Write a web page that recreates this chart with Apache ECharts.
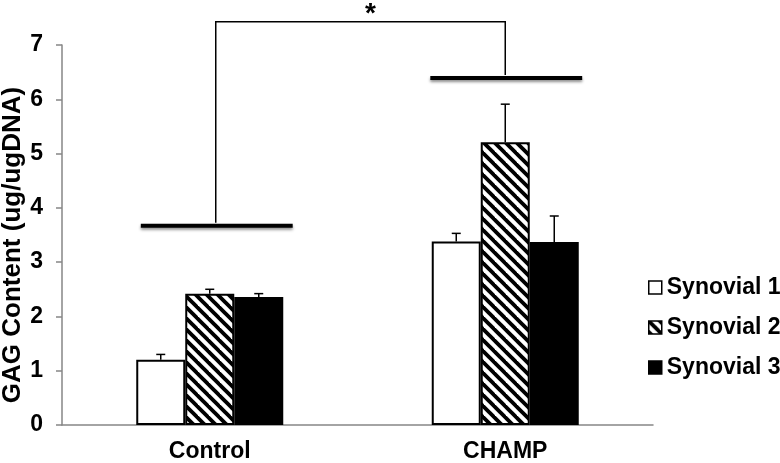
<!DOCTYPE html>
<html>
<head>
<meta charset="utf-8">
<script src="https://cdn.jsdelivr.net/npm/echarts@6/dist/echarts.min.js"></script>
<style>
    html, body { margin: 0; padding: 0; background: #fff; }
    #main { width: 780px; height: 463px; }
</style>
</head>
<body>
<div id="main"></div>
<script>
    // chart data
    var categories = ['Control', 'CHAMP'];
    var seriesNames = ['Synovial 1', 'Synovial 2', 'Synovial 3'];
    var synovial1 = [1.20, 3.38];
    var synovial2 = [2.42, 5.21];
    var synovial3 = [2.36, 3.37];
    var err1 = [0.10, 0.15];
    var err2 = [0.08, 0.70];
    var err3 = [0.06, 0.48];
    var groupLevels = [3.67, 6.39];   // horizontal bars above each group
    var bracketTop = [7.43];          // significance bracket
    var sigMark = ['*'];

    var FONT = "'Liberation Sans', Arial, sans-serif";
    var BAR_W = 49;
    var lineShift = [7, 1];            // px shift of group lines from category center

    // diagonal hatching pattern
    function makeHatch() {
        var p = 11;
        var c = document.createElement('canvas');
        c.width = p;
        c.height = p;
        var ctx = c.getContext('2d');
        ctx.fillStyle = '#fff';
        ctx.fillRect(0, 0, p, p);
        ctx.strokeStyle = '#000';
        ctx.lineWidth = 3.8;
        for (var k = -p; k <= p; k += p) {
            ctx.beginPath();
            ctx.moveTo(k - 2, -2);
            ctx.lineTo(k + p + 2, p + 2);
            ctx.stroke();
        }
        return c;
    }

    var values = [synovial1, synovial2, synovial3];
    var errors = [err1, err2, err3];
    var fills = ['#fff', {image: makeHatch(), repeat: 'repeat'}, '#000'];

    var errData = [];
    for (var s = 0; s < 3; s++) {
        for (var i = 0; i < categories.length; i++) {
            errData.push([i, s, values[s][i], errors[s][i]]);
        }
    }

    var chart = echarts.init(document.getElementById('main'));

    var barSeries = seriesNames.map(function (name, s) {
        return {
            name: name,
            type: 'bar',
            data: values[s],
            barWidth: BAR_W,
            barGap: '0%',
            itemStyle: {
                color: fills[s],
                borderColor: '#000',
                borderWidth: 2
            },
            emphasis: {disabled: true}
        };
    });

    var errorSeries = {
        type: 'custom',
        data: errData,
        z: 5,
        renderItem: function (params, api) {
            var cat = api.value(0), s = api.value(1);
            var v = api.value(2), e = api.value(3);
            var base = api.coord([cat, v]);
            var top = api.coord([cat, v + e]);
            var x = base[0] + (s - 1) * BAR_W;
            var style = {stroke: '#000', lineWidth: 1.5};
            return {
                type: 'group',
                children: [
                    {type: 'line', shape: {x1: x, y1: base[1], x2: x, y2: top[1]}, style: style},
                    {type: 'line', shape: {x1: x - 4.5, y1: top[1], x2: x + 4.5, y2: top[1]}, style: style}
                ]
            };
        }
    };

    var sigSeries = {
        type: 'custom',
        data: bracketTop.map(function (v) { return [0, v]; }),
        z: 6,
        clip: false,
        renderItem: function (params, api) {
            var band = api.size([1, 0])[0];
            var half = band * 0.257;
            var children = [];
            var ends = [];
            for (var i = 0; i < categories.length; i++) {
                var p = api.coord([i, groupLevels[i]]);
                var cx = p[0] + lineShift[i];
                children.push({
                    type: 'line',
                    shape: {x1: cx - half, y1: p[1], x2: cx + half, y2: p[1]},
                    style: {
                        stroke: '#000', lineWidth: 4,
                        shadowColor: 'rgba(0,0,0,0.45)', shadowBlur: 3, shadowOffsetY: 2
                    }
                });
                ends.push([cx - 1, p[1] - 3]);
            }
            var yTop = api.coord([0, api.value(1)])[1];
            children.push({
                type: 'polyline',
                shape: {points: [[ends[0][0], ends[0][1]], [ends[0][0], yTop], [ends[1][0], yTop], [ends[1][0], ends[1][1]]]},
                style: {stroke: '#000', lineWidth: 1.5, fill: null}
            });
            children.push({
                type: 'text',
                style: {
                    text: sigMark[0],
                    x: (ends[0][0] + ends[1][0]) / 2 + 10,
                    y: yTop - 21,
                    align: 'center',
                    verticalAlign: 'top',
                    font: 'bold 28px ' + FONT,
                    fill: '#000'
                }
            });
            return {type: 'group', children: children};
        }
    };

    chart.setOption({
        animation: false,
        grid: {left: 62, right: 127, top: 45, bottom: 37},
        legend: {
            orient: 'vertical',
            left: 648,
            top: 276,
            padding: 0,
            itemWidth: 13,
            itemHeight: 13,
            itemGap: 17,
            icon: 'rect',
            itemStyle: {borderWidth: 1.5},
            selectedMode: false,
            data: seriesNames,
            textStyle: {
                fontFamily: FONT,
                fontWeight: 'bold',
                fontSize: 23,
                lineHeight: 23,
                color: '#000'
            }
        },
        graphic: [{
            type: 'text',
            x: 13,
            y: 245,
            rotation: Math.PI / 2,
            style: {
                text: 'GAG Content (ug/ugDNA)',
                align: 'center',
                verticalAlign: 'middle',
                font: 'bold 26px ' + FONT,
                fill: '#000'
            }
        }],
        xAxis: {
            type: 'category',
            data: categories,
            axisLine: {lineStyle: {color: '#868686', width: 1.5}},
            axisTick: {show: false},
            axisLabel: {
                color: '#000',
                fontFamily: FONT,
                fontWeight: 'bold',
                fontSize: 23,
                margin: 15
            }
        },
        yAxis: {
            type: 'value',
            min: 0,
            max: 7,
            interval: 1,
            splitLine: {show: false},
            axisLine: {show: true, lineStyle: {color: '#868686', width: 1.5}},
            axisTick: {show: true, length: 6, lineStyle: {color: '#868686', width: 1.5}},
            axisLabel: {
                color: '#000',
                fontFamily: FONT,
                fontWeight: 'bold',
                fontSize: 23,
                margin: 19
            }
        },
        series: barSeries.concat([errorSeries, sigSeries])
    });
</script>
</body>
</html>
